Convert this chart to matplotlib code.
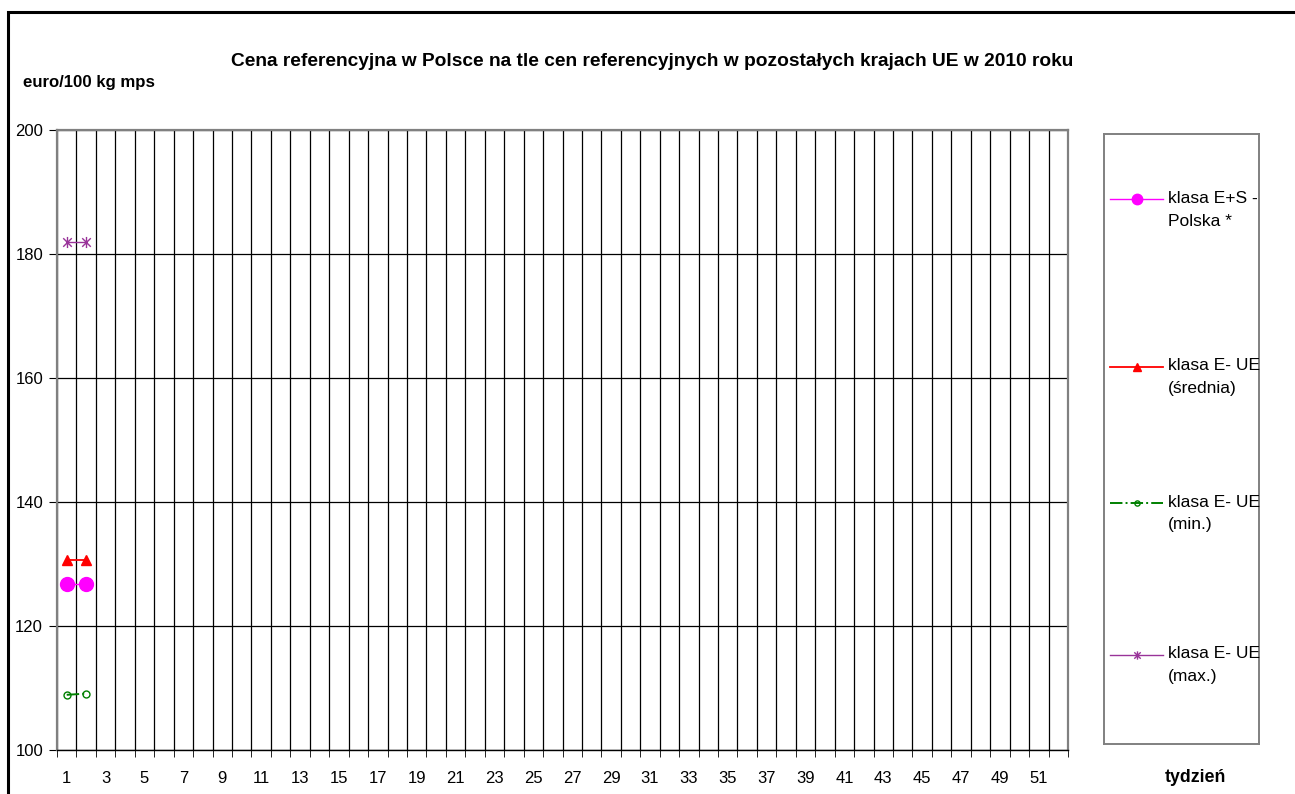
import matplotlib
matplotlib.use("Agg")
import matplotlib.pyplot as plt
from matplotlib.patches import Rectangle
from matplotlib.path import Path
from matplotlib.lines import Line2D
import numpy as np

plt.rcParams['font.family'] = ['Liberation Sans', 'DejaVu Sans']

# dane
tygodnie = np.arange(1, 53)
tyg_dane = [1, 2]
es_polska = [126.7, 126.7]
e_ue_srednia = [130.6, 130.6]
e_ue_min = [108.9, 109.1]
e_ue_max = [182.0, 182.0]
etykiety = ["klasa E+S -\nPolska *", "klasa E- UE\n(średnia)", "klasa E- UE\n(min.)", "klasa E- UE\n(max.)"]
y_ticks = [100, 120, 140, 160, 180, 200]

# marker gwiazdka jak w Excelu (x + kreska pionowa)
gw = Path([(-1, -1), (1, 1), (-1, 1), (1, -1), (0, -1.3), (0, 1.3)],
          [Path.MOVETO, Path.LINETO, Path.MOVETO, Path.LINETO, Path.MOVETO, Path.LINETO])

fig = plt.figure(figsize=(12.95, 7.94), dpi=100)
fig.patches.append(Rectangle((8/1295, -0.1), 1.2, 1 - 12/794 + 0.1, transform=fig.transFigure,
                             fill=False, edgecolor='black', linewidth=2.2))

ax = fig.add_axes([57/1295, 1 - 750/794, 1011/1295, 620/794])

styles = [
    dict(color='#FF00FF', marker='o', markersize=10, linestyle='-', linewidth=1),
    dict(color='#FF0000', marker='^', markersize=7, linestyle='-', linewidth=1.3),
    dict(color='#008000', marker='o', markersize=5, markerfacecolor='none', linestyle='-.', linewidth=1.4),
    dict(color='#993399', marker=gw, markersize=8, linestyle='-', linewidth=1, markeredgewidth=1),
]
serie = [es_polska, e_ue_srednia, e_ue_min, e_ue_max]
for s, st in zip(serie, styles):
    ax.plot(tyg_dane, s, zorder=5, **st)

ax.set_xlim(0.5, 52.5)
ax.set_ylim(100, 200)
ax.set_yticks(y_ticks)
ax.set_xticks(tygodnie[::2])
ax.set_xticks(np.arange(0.5, 53, 1), minor=True)
ax.tick_params(axis='x', which='major', length=0, pad=15, labelsize=12)
ax.tick_params(axis='x', which='minor', length=5, direction='out', color='black')
ax.tick_params(axis='y', length=6, direction='out', labelsize=12, pad=4)
ax.grid(True, axis='x', which='minor', color='black', linewidth=0.9)
ax.grid(True, axis='y', which='major', color='black', linewidth=0.9)
for k in ['left', 'right', 'top']:
    ax.spines[k].set_color('#808080')
    ax.spines[k].set_linewidth(1.6)
ax.spines['bottom'].set_color('black')
ax.spines['bottom'].set_linewidth(1)

fig.text(652/1295, 1 - 62/794, "Cena referencyjna w Polsce na tle cen referencyjnych w pozostałych krajach UE w 2010 roku",
         ha='center', va='center', fontsize=13.8, fontweight='bold')
fig.text(23/1295, 1 - 82/794, "euro/100 kg mps", ha='left', va='center', fontsize=12.1, fontweight='bold')
fig.text(1195/1295, 1 - 777/794, "tydzień", ha='center', va='center', fontsize=12.8, fontweight='bold')

# legenda
lax = fig.add_axes([1104/1295, 1 - 744/794, 155/1295, 610/794])
lax.set_xlim(0, 155)
lax.set_ylim(0, 1)
lax.set_xticks([])
lax.set_yticks([])
for k in lax.spines:
    lax.spines[k].set_color('#808080')
    lax.spines[k].set_linewidth(1.4)
poz = [0.893, 0.618, 0.395, 0.146]
for yy, st, lab in zip(poz, styles, etykiety):
    st2 = dict(st)
    st2['markersize'] = st['markersize'] * 0.75
    lax.add_line(Line2D([6, 32.5, 59], [yy, yy, yy], markevery=[1], **st2))
    lax.text(64, yy + 0.014, lab, ha='left', va='top', fontsize=12.5, linespacing=1.65)

fig.savefig("out.png", dpi=100)
